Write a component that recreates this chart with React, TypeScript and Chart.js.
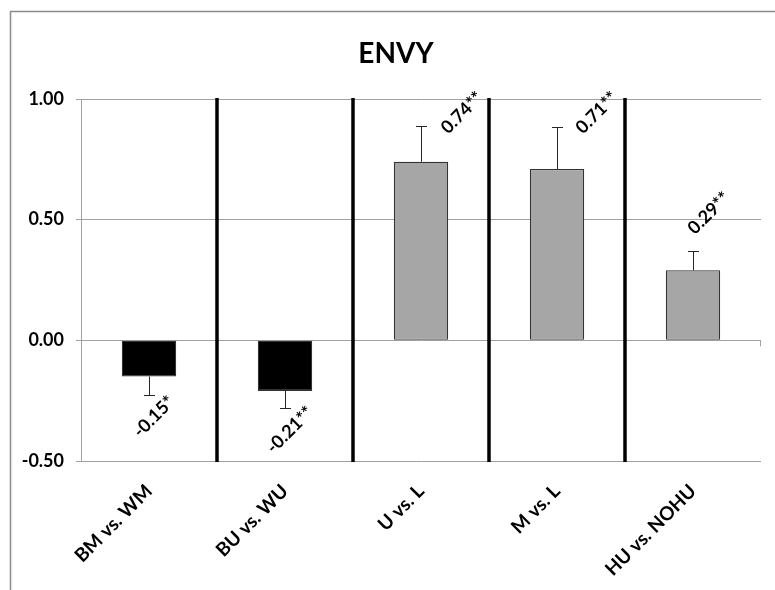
import React, { useEffect, useRef } from "react";
import { Chart, registerables } from "chart.js";

Chart.register(...registerables);

// Envy: mean differences between comparison groups, with standard errors
const title = "ENVY";
const categories = ["BM vs. WM", "BU vs. WU", "U vs. L", "M vs. L", "HU vs. NOHU"];
const means = [-0.15, -0.21, 0.74, 0.71, 0.29];
const errors = [0.075, 0.07, 0.15, 0.175, 0.08];
const significance = ["*", "**", "**", "**", "**"];
const yTicks = [-0.5, 0, 0.5, 1.0];

const FONT = "Lato, 'Open Sans', 'DejaVu Sans', sans-serif";
const GRID = "#a0a0a0";

const decorations = {
  id: "decorations",
  beforeDraw(chart: any) {
    const { ctx, width, height } = chart;
    ctx.save();
    ctx.fillStyle = "#ffffff";
    ctx.fillRect(0, 0, width, height);
    // outer chart frame (top and left edges)
    ctx.strokeStyle = "#8c8c8c";
    ctx.lineWidth = 1.5;
    ctx.beginPath();
    ctx.moveTo(10.5, height + 5);
    ctx.lineTo(10.5, 11.5);
    ctx.lineTo(width + 5, 11.5);
    ctx.stroke();
    // title
    ctx.fillStyle = "#000";
    ctx.font = `bold 28px ${FONT}`;
    ctx.textAlign = "center";
    ctx.textBaseline = "alphabetic";
    ctx.fillText(title, 396, 63);
    ctx.restore();
  },
  afterDatasetsDraw(chart: any) {
    const { ctx, chartArea } = chart;
    const xs = chart.scales.x;
    const ys = chart.scales.y;
    const zeroY = ys.getPixelForValue(0);
    ctx.save();

    // tick mark on the category axis at zero
    ctx.strokeStyle = GRID;
    ctx.lineWidth = 1;
    ctx.beginPath();
    ctx.moveTo(chartArea.right - 0.5, zeroY);
    ctx.lineTo(chartArea.right - 0.5, zeroY + 6);
    ctx.stroke();

    // error bars (away from zero only)
    ctx.strokeStyle = "#262626";
    ctx.lineWidth = 1;
    means.forEach((m, i) => {
      const sign = m >= 0 ? 1 : -1;
      const x = Math.round(xs.getPixelForValue(i)) + 0.5;
      const y0 = ys.getPixelForValue(m);
      const y1 = Math.round(ys.getPixelForValue(m + sign * errors[i])) + 0.5;
      ctx.beginPath();
      ctx.moveTo(x, y0);
      ctx.lineTo(x, y1);
      ctx.moveTo(x - 5.5, y1);
      ctx.lineTo(x + 5.5, y1);
      ctx.stroke();
    });

    // thick separators between comparisons
    ctx.strokeStyle = "#000";
    ctx.lineWidth = 3.5;
    for (let i = 1; i < categories.length; i++) {
      const x = (xs.getPixelForValue(i - 1) + xs.getPixelForValue(i)) / 2;
      ctx.beginPath();
      ctx.moveTo(x, chartArea.top - 1);
      ctx.lineTo(x, chartArea.bottom + 1);
      ctx.stroke();
    }

    // value labels, rotated
    ctx.fillStyle = "#000";
    ctx.font = `bold 18px ${FONT}`;
    ctx.textAlign = "center";
    ctx.textBaseline = "middle";
    means.forEach((m, i) => {
      const text = m.toFixed(2) + significance[i];
      const cx0 = xs.getPixelForValue(i);
      let cx: number;
      let cy: number;
      if (m >= 0) {
        const errTop = ys.getPixelForValue(m + errors[i]);
        cx = cx0 + 16;
        cy = errTop - 38;
        const w = ctx.measureText(text).width;
        const top = cy - (w + 16) * 0.3536;
        const limit = chartArea.top - 10;
        if (top < limit) {
          const d = limit - top;
          cx += d;
          cy += d;
        }
      } else {
        const errEnd = ys.getPixelForValue(m - errors[i]);
        cx = cx0 + 5;
        cy = errEnd + 22;
      }
      ctx.save();
      ctx.translate(cx, cy);
      ctx.rotate(-Math.PI / 4);
      ctx.fillText(text, 0, 0);
      ctx.restore();
    });
    ctx.restore();
  },
};

export default function App() {
  const canvasRef = useRef<HTMLCanvasElement | null>(null);

  useEffect(() => {
    if (!canvasRef.current) return;
    const chart = new Chart(canvasRef.current, {
      type: "bar",
      data: {
        labels: categories,
        datasets: [
          {
            data: means,
            backgroundColor: means.map((m) => (m < 0 ? "#000000" : "#a6a6a6")),
            borderColor: "#333333",
            borderWidth: 1.2,
            borderSkipped: false,
            categoryPercentage: 1,
            barPercentage: 0.4,
          },
        ],
      },
      options: {
        responsive: false,
        animation: false,
        devicePixelRatio: 1,
        layout: { padding: { top: 99, right: 14, bottom: 0, left: 0 } },
        plugins: {
          legend: { display: false },
          title: { display: false },
          tooltip: { enabled: false },
        },
        scales: {
          x: {
            grid: { display: false },
            border: { display: false },
            ticks: {
              autoSkip: false,
              minRotation: 45,
              maxRotation: 45,
              color: "#000",
              padding: 11,
              font: { family: FONT, size: 19, weight: "bold" },
            },
            afterFit: (s: any) => {
              s.height = 129;
            },
          },
          y: {
            min: -0.5,
            max: 1,
            afterBuildTicks: (s: any) => {
              s.ticks = yTicks.map((v) => ({ value: v }));
            },
            ticks: {
              callback: (v: any) => Number(v).toFixed(2),
              color: "#000",
              padding: 12,
              font: { family: FONT, size: 18, weight: "bold" },
            },
            grid: { color: GRID, lineWidth: 1, tickLength: 5 },
            border: { color: GRID },
            afterFit: (s: any) => {
              s.width = 81;
            },
          },
        },
      },
      plugins: [decorations],
    });
    return () => chart.destroy();
  }, []);

  return (
    <div style={{ position: "absolute", left: 0, top: 0, width: 775, height: 590 }}>
      <canvas ref={canvasRef} width={775} height={590} />
    </div>
  );
}
